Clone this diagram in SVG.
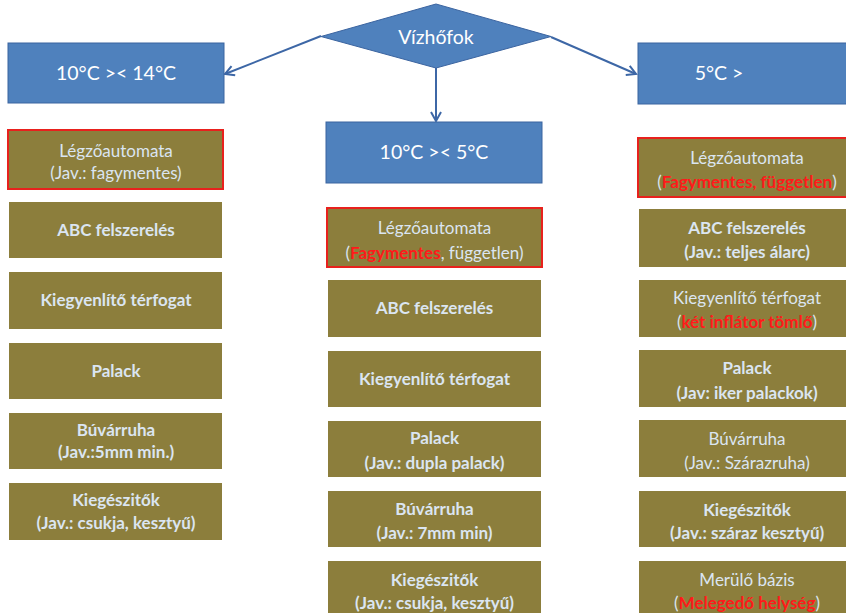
<svg xmlns="http://www.w3.org/2000/svg" width="846" height="613" viewBox="0 0 846 613">
  <defs>
    <marker id="arrow" viewBox="0 0 12 12" refX="10" refY="6" markerWidth="12" markerHeight="12" markerUnits="userSpaceOnUse" orient="auto">
      <path d="M1,1 L10,6 L1,11" fill="none" stroke="#3d67a6" stroke-width="2"/>
    </marker>
  </defs>
  <style>
    .hdr { fill: #4f81bd; stroke: #3b64a0; stroke-width: 1; }
    .hdr-t { font-family: Lato, "Liberation Sans", sans-serif; font-size: 19.5px; fill: #ffffff; text-anchor: middle; }
    .box { fill: #8c7e3c; }
    .box-red { fill: #8c7e3c; stroke: #e8211d; stroke-width: 2; }
    .t { font-family: Lato, "Liberation Sans", sans-serif; font-size: 17px; font-weight: bold; fill: #dbe5f1; text-anchor: middle; }
    .lt { font-weight: normal; }
    .red { fill: #ff1a1a; font-weight: bold; }
    .conn { fill: none; stroke: #3d67a6; stroke-width: 2; marker-end: url(#arrow); }
  </style>
  <rect width="846" height="613" fill="#ffffff"/>

  <!-- connectors -->
  <g id="connectors">
    <line class="conn" x1="321" y1="36" x2="225" y2="74"/>
    <line class="conn" x1="551" y1="37" x2="636" y2="74"/>
    <line class="conn" x1="436" y1="68" x2="436" y2="121"/>
  </g>

  <!-- decision -->
  <g id="vizhofok">
    <polygon class="hdr" points="436,4 551,36.5 436,68 321,36.5"/>
    <text class="hdr-t" x="436" y="44">Vízhőfok</text>
  </g>

  <!-- headers -->
  <g id="hdr-left">
    <rect class="hdr" x="8" y="43" width="216" height="60"/>
    <text class="hdr-t" x="116" y="80">10°C &gt;&lt; 14°C</text>
  </g>
  <g id="hdr-mid">
    <rect class="hdr" x="326" y="122" width="216" height="61"/>
    <text class="hdr-t" x="434" y="159">10°C &gt;&lt; 5°C</text>
  </g>
  <g id="hdr-right">
    <rect class="hdr" x="638" y="43" width="216" height="61"/>
    <text class="hdr-t" x="719" y="80">5°C &gt;</text>
  </g>

  <!-- left column -->
  <g id="l1">
    <rect class="box-red" x="8" y="130" width="215" height="59"/>
    <text class="t lt" x="116" y="157">Légzőautomata</text>
    <text class="t lt" x="116" y="179">(Jav.: fagymentes)</text>
  </g>
  <g id="l2">
    <rect class="box" x="9" y="202" width="213" height="56"/>
    <text class="t" x="116" y="236">ABC felszerelés</text>
  </g>
  <g id="l3">
    <rect class="box" x="9" y="272" width="213" height="57"/>
    <text class="t" x="116" y="306">Kiegyenlítő térfogat</text>
  </g>
  <g id="l4">
    <rect class="box" x="9" y="343" width="213" height="56"/>
    <text class="t" x="116" y="377">Palack</text>
  </g>
  <g id="l5">
    <rect class="box" x="9" y="413" width="213" height="56"/>
    <text class="t" x="116" y="436">Búvárruha</text>
    <text class="t" x="116" y="458">(Jav.:5mm min.)</text>
  </g>
  <g id="l6">
    <rect class="box" x="9" y="483" width="213" height="57"/>
    <text class="t" x="116" y="506">Kiegészitők</text>
    <text class="t" x="116" y="529">(Jav.: csukja, kesztyű)</text>
  </g>

  <!-- middle column -->
  <g id="m1">
    <rect class="box-red" x="327" y="208" width="215" height="59"/>
    <text class="t lt" x="434.5" y="234">Légzőautomata</text>
    <text class="t lt" x="434.5" y="259">(<tspan class="red">Fagymentes</tspan>, független)</text>
  </g>
  <g id="m2">
    <rect class="box" x="328" y="280" width="213" height="57"/>
    <text class="t" x="434.5" y="314">ABC felszerelés</text>
  </g>
  <g id="m3">
    <rect class="box" x="328" y="351" width="213" height="56"/>
    <text class="t" x="434.5" y="385">Kiegyenlítő térfogat</text>
  </g>
  <g id="m4">
    <rect class="box" x="328" y="421" width="213" height="56"/>
    <text class="t" x="434.5" y="444">Palack</text>
    <text class="t" x="434.5" y="469">(Jav.: dupla palack)</text>
  </g>
  <g id="m5">
    <rect class="box" x="328" y="491" width="213" height="56"/>
    <text class="t" x="434.5" y="515">Búvárruha</text>
    <text class="t" x="434.5" y="539">(Jav.: 7mm min)</text>
  </g>
  <g id="m6">
    <rect class="box" x="328" y="561" width="213" height="56"/>
    <text class="t" x="434.5" y="586">Kiegészitők</text>
    <text class="t" x="434.5" y="609">(Jav.: csukja, kesztyű)</text>
  </g>

  <!-- right column -->
  <g id="r1">
    <rect class="box-red" x="638" y="138" width="216" height="59"/>
    <text class="t lt" x="747" y="164">Légzőautomata</text>
    <text class="t lt" x="747" y="188">(<tspan class="red">Fagymentes, független</tspan>)</text>
  </g>
  <g id="r2">
    <rect class="box" x="639" y="209" width="215" height="58"/>
    <text class="t" x="747" y="234">ABC felszerelés</text>
    <text class="t" x="747" y="258">(Jav.: teljes álarc)</text>
  </g>
  <g id="r3">
    <rect class="box" x="639" y="280" width="215" height="57"/>
    <text class="t lt" x="747" y="304">Kiegyenlítő térfogat</text>
    <text class="t lt" x="747" y="328">(<tspan class="red">két inflátor tömlő</tspan>)</text>
  </g>
  <g id="r4">
    <rect class="box" x="639" y="350" width="215" height="57"/>
    <text class="t" x="747" y="374">Palack</text>
    <text class="t" x="747" y="399">(Jav: iker palackok)</text>
  </g>
  <g id="r5">
    <rect class="box" x="639" y="420" width="215" height="57"/>
    <text class="t lt" x="747" y="445">Búvárruha</text>
    <text class="t lt" x="747" y="469">(Jav.: Szárazruha)</text>
  </g>
  <g id="r6">
    <rect class="box" x="639" y="491" width="215" height="56"/>
    <text class="t" x="747" y="516">Kiegészitők</text>
    <text class="t" x="747" y="539">(Jav.: száraz kesztyű)</text>
  </g>
  <g id="r7">
    <rect class="box" x="639" y="561" width="215" height="56"/>
    <text class="t lt" x="747" y="586">Merülő bázis</text>
    <text class="t lt" x="747" y="609">(<tspan class="red">Melegedő helység</tspan>)</text>
  </g>
</svg>
